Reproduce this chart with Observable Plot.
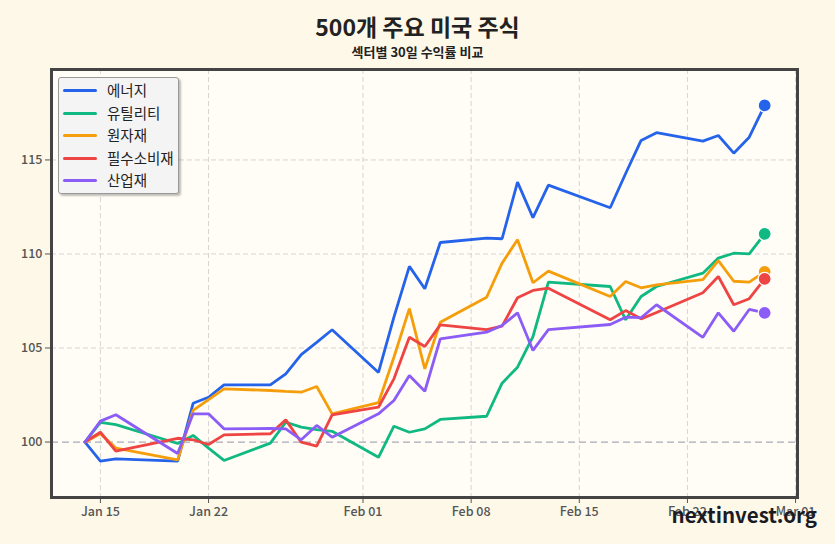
<!DOCTYPE html>
<html>
<head>
<meta charset="utf-8">
<script src="https://cdn.jsdelivr.net/npm/d3@7"></script>
<script src="https://cdn.jsdelivr.net/npm/@observablehq/plot@0.6"></script>
<style>
  html, body { margin:0; padding:0; background:#fdf8e8; }
  body { width:835px; height:544px; position:relative; overflow:hidden; font-family:"Noto Sans CJK KR","Noto Sans",sans-serif; }
  #title { padding-top:9px; height:34px; line-height:34px; text-align:center; font-size:23px; font-weight:700; color:#222; }
  #subtitle { height:18px; line-height:18px; text-align:center; font-size:13px; font-weight:700; color:#222; }
  #chart svg { display:block; }
  #legend { position:absolute; left:58px; top:77px; width:121px; height:117px; background:#f4f4f5; border:1px solid #9a9a9a; border-radius:3px; box-shadow:2px 2px 2px rgba(0,0,0,0.25); box-sizing:border-box; }
  .row { position:absolute; left:0; height:22px; display:flex; align-items:center; }
  .swatch { position:absolute; left:4px; width:34px; height:3px; border-radius:2px; }
  .lab { position:absolute; left:48px; font-size:14.5px; color:#222; white-space:nowrap; line-height:22px; }
  #wm { position:absolute; right:18px; top:499px; font-size:20.5px; font-weight:700; color:#1b1b24; }
</style>
</head>
<body>
<div id="title">500개 주요 미국 주식</div>
<div id="subtitle">섹터별 30일 수익률 비교</div>
<div id="chart"></div>
<div id="legend"></div>
<div id="wm">nextinvest.org</div>
<script>
const dates = ["2026-01-14","2026-01-15","2026-01-16","2026-01-20","2026-01-21","2026-01-22","2026-01-23",
  "2026-01-26","2026-01-27","2026-01-28","2026-01-29","2026-01-30",
  "2026-02-02","2026-02-03","2026-02-04","2026-02-05","2026-02-06",
  "2026-02-09","2026-02-10","2026-02-11","2026-02-12","2026-02-13",
  "2026-02-17","2026-02-18","2026-02-19","2026-02-20",
  "2026-02-23","2026-02-24","2026-02-25","2026-02-26","2026-02-27"];
const seriesNames = ["에너지","유틸리티","원자재","필수소비재","산업재"];
const seriesColors = ["#2563eb","#10b981","#f59e0b","#ef4444","#8b5cf6"];
const energy =      [100,98.98,99.1,98.98,102.06,102.38,103.04,103.04,103.63,104.65,105.3,105.97,103.7,106.64,109.34,108.15,110.61,110.84,110.81,113.82,111.93,113.66,112.46,114.28,116.04,116.45,116.0,116.3,115.36,116.21,117.9];
const utilities =   [100,101.05,100.93,99.92,100.35,99.68,99.02,99.94,101.05,100.79,100.66,100.57,99.19,100.84,100.52,100.7,101.2,101.37,103.13,103.98,105.61,108.5,108.27,106.5,107.74,108.27,108.98,109.78,110.04,110.01,111.07];
const materials =   [100,100.44,99.68,99.05,101.68,102.26,102.83,102.74,102.69,102.65,102.95,101.5,102.09,104.51,107.09,103.89,106.37,107.7,109.51,110.76,108.47,109.09,107.74,108.54,108.2,108.36,108.64,109.65,108.55,108.5,109.05];
const staples =     [100,100.52,99.51,100.2,100.12,99.87,100.38,100.44,101.18,99.99,99.78,101.45,101.85,103.36,105.57,105.08,106.23,105.98,106.16,107.67,108.06,108.18,106.5,106.99,106.55,106.89,107.94,108.8,107.3,107.62,108.68];
const industrials = [100,101.11,101.45,99.39,101.5,101.5,100.7,100.72,100.7,100.12,100.88,100.26,101.5,102.21,103.54,102.7,105.49,105.84,106.2,106.87,104.87,105.98,106.25,106.64,106.61,107.3,105.57,106.87,105.89,107.05,106.87];
const tickDates = ["2026-01-15","2026-01-22","2026-02-01","2026-02-08","2026-02-15","2026-02-22","2026-03-01"];
const yTicks = [100,105,110,115];

const parse = d3.utcParse("%Y-%m-%d");
const valuesList = [energy, utilities, materials, staples, industrials];
const data = seriesNames.flatMap((name, i) =>
  dates.map((d, j) => ({date: parse(d), value: valuesList[i][j], series: name})));
const lastPoints = seriesNames.map((name, i) => ({date: parse(dates[dates.length-1]), value: valuesList[i][dates.length-1], series: name}));
const tickD = tickDates.map(parse);
const fmt = d3.utcFormat("%b %d");

const chart = Plot.plot({
  width: 835, height: 483,
  marginTop: 8, marginBottom: 47, marginLeft: 51, marginRight: 38,
  style: {fontFamily: '"Noto Sans CJK KR","Noto Sans",sans-serif', fontSize: "12.5px", fontWeight: 500, color: "#555", background: "transparent"},
  x: {type: "utc", domain: [new Date(Date.UTC(2026,0,11,20)), new Date(Date.UTC(2026,2,1,3))]},
  y: {domain: [97.05, 119.81]},
  color: {domain: seriesNames, range: seriesColors},
  marks: [
    Plot.frame({fill: "#fffdf6", stroke: "none"}),
    Plot.gridX(tickD, {stroke: "#cfcfcf", strokeOpacity: 0.9, strokeDasharray: "5,3", strokeWidth: 1}),
    Plot.gridY([105,110,115], {stroke: "#cfcfcf", strokeOpacity: 0.9, strokeDasharray: "5,3", strokeWidth: 1}),
    Plot.ruleY([100], {stroke: "#a9a9b8", strokeDasharray: "7,4", strokeWidth: 1.3}),
    Plot.axisX(tickD, {tickFormat: fmt, tickSize: 6, tickPadding: 4, label: null}),
    Plot.axisY(yTicks, {tickSize: 6, tickPadding: 3, label: null}),
    ...seriesNames.map((name, i) =>
      Plot.lineY(data.filter(d => d.series === name), {x: "date", y: "value", stroke: seriesColors[i], strokeWidth: 2.8, strokeLinejoin: "miter"})),
    Plot.dot(lastPoints, {x: "date", y: "value", fill: "series", r: 6.5, stroke: "white", strokeWidth: 1.2}),
    Plot.frame({stroke: "#444", strokeWidth: 3})
  ]
});
document.getElementById("chart").appendChild(chart);

const legend = document.getElementById("legend");
seriesNames.forEach((name, i) => {
  const row = document.createElement("div");
  row.className = "row";
  row.style.top = (1 + i * 22.5) + "px";
  row.style.width = "119px";
  const sw = document.createElement("div");
  sw.className = "swatch";
  sw.style.background = seriesColors[i];
  sw.style.top = "10px";
  const lab = document.createElement("div");
  lab.className = "lab";
  lab.style.top = "0px";
  lab.textContent = name;
  row.appendChild(sw); row.appendChild(lab);
  legend.appendChild(row);
});
</script>
</body>
</html>
